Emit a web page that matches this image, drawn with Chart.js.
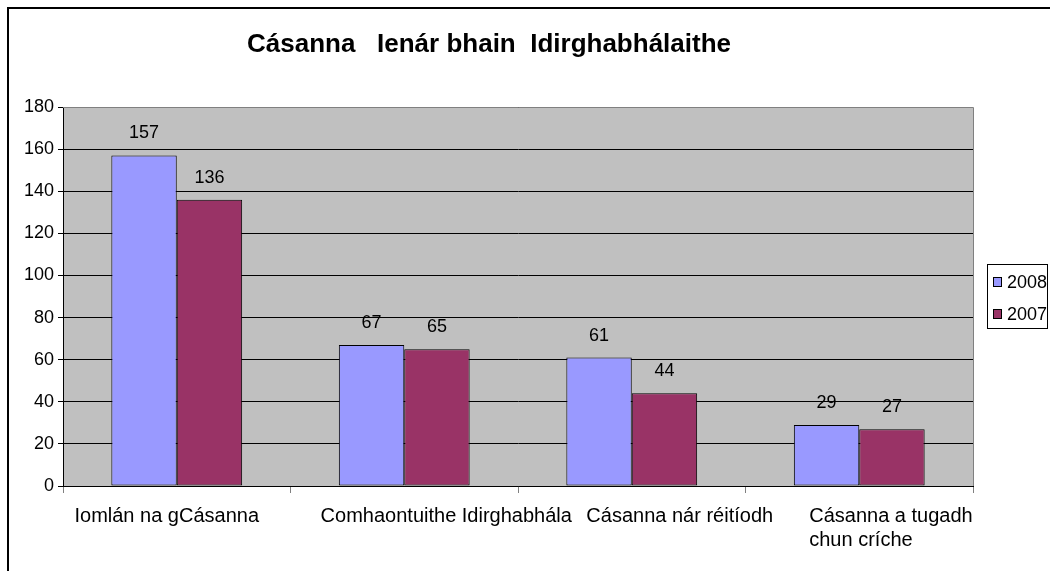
<!DOCTYPE html>
<html lang="ga">
<head>
    <meta charset="UTF-8">
    <title>Cásanna Ienár bhain Idirghabhálaithe</title>
    <script src="https://cdn.jsdelivr.net/npm/chart.js"></script>
    <style>
        html, body { margin: 0; padding: 0; background: #fff; }
        #wrap { width: 1050px; height: 571px; }
    </style>
</head>
<body>
<div id="wrap"><canvas id="chart"></canvas></div>

<script>
    const chartTitle = 'Cásanna   Ienár bhain  Idirghabhálaithe';
    const categories = [
        'Iomlán na gCásanna',
        'Comhaontuithe Idirghabhála',
        'Cásanna nár réitíodh',
        ['Cásanna a tugadh', 'chun críche']
    ];
    const seriesNames = ['2008', '2007'];
    const values2008 = [157, 67, 61, 29];
    const values2007 = [136, 65, 44, 27];
    const seriesColors = ['#9999ff', '#993366'];

    const FONT = '"Liberation Sans", Arial, sans-serif';

    // frame, grey plot background, title, value labels, category labels, legend
    const backdrop = {
        id: 'backdrop',
        beforeDraw(chart) {
            const { ctx, chartArea: a } = chart;
            ctx.save();
            ctx.fillStyle = '#fff';
            ctx.fillRect(0, 0, chart.width, chart.height);
            ctx.strokeStyle = '#000';
            ctx.lineWidth = 2;
            ctx.beginPath();
            ctx.moveTo(8, chart.height);
            ctx.lineTo(8, 8);
            ctx.lineTo(chart.width, 8);
            ctx.stroke();
            ctx.fillStyle = '#c0c0c0';
            ctx.fillRect(a.left, a.top, a.right - a.left, a.bottom - a.top);
            ctx.fillStyle = '#000';
            ctx.font = 'bold 26px ' + FONT;
            ctx.textAlign = 'center';
            ctx.textBaseline = 'middle';
            ctx.fillText(chartTitle, 489, 45);
            ctx.restore();
        },
        afterDatasetsDraw(chart) {
            const { ctx, chartArea: a } = chart;
            ctx.save();
            ctx.strokeStyle = '#808080';
            ctx.lineWidth = 1;
            ctx.beginPath();
            ctx.moveTo(a.left, a.top + 0.5);
            ctx.lineTo(a.right + 0.5, a.top + 0.5);
            ctx.lineTo(a.right + 0.5, a.bottom);
            ctx.stroke();
            ctx.fillStyle = '#000';
            ctx.font = '18px ' + FONT;
            ctx.textAlign = 'center';
            ctx.textBaseline = 'middle';
            chart.data.datasets.forEach((ds, i) => {
                chart.getDatasetMeta(i).data.forEach((bar, j) => {
                    ctx.fillText(ds.data[j], bar.x, bar.y - 22);
                });
            });
            ctx.restore();
        },
        afterDraw(chart) {
            const { ctx } = chart;
            const xs = chart.scales.x;
            ctx.save();
            // category labels, nudged the way the original spreadsheet laid them out
            const shift = [-10, 42, 48, -50];
            ctx.fillStyle = '#000';
            ctx.font = '20px ' + FONT;
            ctx.textBaseline = 'middle';
            chart.data.labels.forEach((lab, i) => {
                const lines = Array.isArray(lab) ? lab : [lab];
                const x = xs.getPixelForValue(i) + shift[i];
                ctx.textAlign = lines.length > 1 ? 'left' : 'center';
                lines.forEach((t, k) => ctx.fillText(t, x, xs.top + 30 + k * 24));
            });
            // legend
            ctx.fillStyle = '#fff';
            ctx.fillRect(987, 264, 61, 65);
            ctx.strokeStyle = '#000';
            ctx.lineWidth = 1;
            ctx.strokeRect(987.5, 264.5, 60, 64);
            ctx.font = '18px ' + FONT;
            ctx.textAlign = 'left';
            chart.data.datasets.forEach((ds, i) => {
                const y = 282 + i * 32;
                ctx.fillStyle = ds.backgroundColor;
                ctx.fillRect(993, y - 5, 9, 10);
                ctx.strokeRect(993.5, y - 4.5, 8, 9);
                ctx.fillStyle = '#000';
                ctx.fillText(ds.label, 1007, y + 1);
            });
            ctx.restore();
        }
    };

    new Chart(document.getElementById('chart'), {
        type: 'bar',
        data: {
            labels: categories,
            datasets: [
                { label: seriesNames[0], data: values2008, backgroundColor: seriesColors[0],
                  borderColor: '#000', borderWidth: 1, borderSkipped: false },
                { label: seriesNames[1], data: values2007, backgroundColor: seriesColors[1],
                  borderColor: '#000', borderWidth: 1, borderSkipped: false }
            ]
        },
        options: {
            responsive: true,
            maintainAspectRatio: false,
            animation: false,
            layout: { padding: { left: 0, top: 107, right: 77, bottom: 0 } },
            datasets: { bar: { categoryPercentage: 0.575, barPercentage: 1 } },
            plugins: {
                legend: { display: false },
                title: { display: false },
                tooltip: { enabled: false }
            },
            scales: {
                x: {
                    offset: true,
                    afterFit(scale) { scale.height = 85; },
                    grid: { drawOnChartArea: false, offset: true, tickLength: 7, color: '#808080' },
                    border: { color: '#000', width: 1 },
                    ticks: { display: false }
                },
                y: {
                    min: 0,
                    max: 180,
                    afterFit(scale) { scale.width = 63; },
                    grid: { color: '#000', tickLength: 5 },
                    border: { color: '#000', width: 1 },
                    ticks: { stepSize: 20, color: '#000', font: { family: FONT, size: 18 }, padding: 4 }
                }
            }
        },
        plugins: [backdrop]
    });
</script>
</body>
</html>
